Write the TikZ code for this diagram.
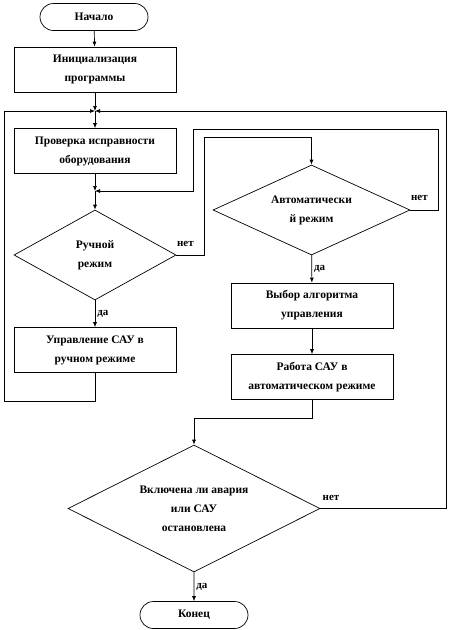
\documentclass[tikz,border=0pt]{standalone}
\usepackage{fontspec}
\setmainfont{Liberation Serif}
\usetikzlibrary{shapes.geometric,shapes.misc,arrows.meta}

\begin{document}
\begin{tikzpicture}[x=1pt, y=-1pt, line width=0.7pt, ->,
      >={Latex[length=5pt,width=4pt]},
      every node/.append style={font=\bfseries\fontsize{11.5}{19}\selectfont, align=center},
      box/.style={draw, rectangle, minimum width=162pt, minimum height=45pt, inner sep=0pt},
      term/.style={draw, rounded rectangle, minimum width=108pt, minimum height=27pt, inner sep=0pt},
      cond/.style={draw, diamond, aspect=2, inner sep=0pt},
      lbl/.style={font=\bfseries\fontsize{11}{12}\selectfont, inner sep=2pt}]
    \useasboundingbox (0,0) rectangle (452,630);
    % left column
    \node[term] (start) at (94,17) {Начало};
    \node[box] (init) at (95,69.5) {Инициализация\\программы};
    \coordinate (m1) at (95,111);
    \node[box] (check) at (95,151) {Проверка исправности\\оборудования};
    \coordinate (m2) at (95,191);
    \node[cond, minimum width=162pt, minimum height=90pt] (manual) at (95,255) {Ручной\\режим};
    \node[box] (ctrl) at (95,350) {Управление САУ в\\ручном режиме};
    % right column
    \node[cond, minimum width=197pt, minimum height=90pt] (auto) at (311.5,210) {Автоматически\\й режим};
    \node[box] (choose) at (312,305.5) {Выбор алгоритма\\управления};
    \node[box] (work) at (312,377) {Работа САУ в\\автоматическом режиме};
    % bottom
    \node[cond, minimum width=252pt, minimum height=127pt] (alarm) at (194,508.5) {Включена ли авария\\или САУ\\остановлена};
    \node[term] (stop) at (194,615) {Конец};

    \draw (start) -- (init);
    \draw (init) -- (m1);
    \draw (m1) -- (check);
    \draw (check) -- (m2);
    \draw (m2) -- (manual);
    \draw (manual) -- node[lbl, right] {да} (ctrl);
    \draw (ctrl.south) -- ++(0,28) -- ++(-91,0) |- (m1);
    \draw (manual.east) -- node[lbl, above, xshift=-5pt, yshift=6pt] {нет} ++(28,0) |- ([yshift=27pt]auto.north) -- (auto.north);
    \draw (auto.east) -- node[lbl, above, xshift=-5pt, yshift=7pt] {нет} ++(28,0) -- ++(0,-81) -- ++(-245,0) |- (m2);
    \draw (auto) -- node[lbl, right] {да} (choose);
    \draw (choose) -- (work);
    \draw (work.south) -- ++(0,18) -| (alarm.north);
    \draw (alarm.east) -- node[lbl, above right, pos=0, yshift=6pt] {нет} ++(126,0) |- (m1);
    \draw (alarm) -- node[lbl, right] {да} (stop);
\end{tikzpicture}
\end{document}
